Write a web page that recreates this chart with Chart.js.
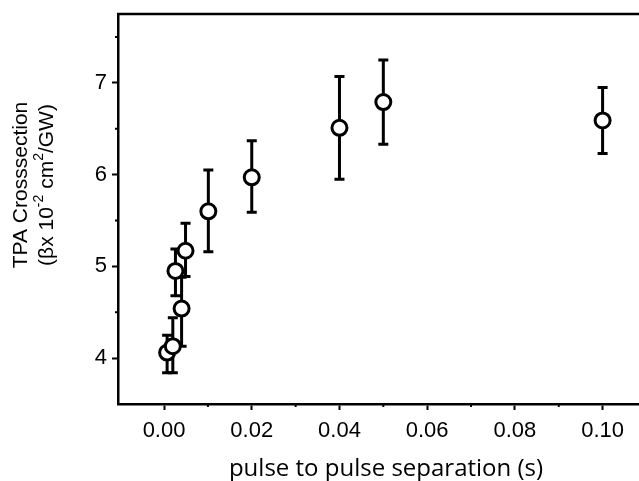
<!DOCTYPE html>
<html>
<head>
<meta charset="utf-8">
<script src="https://cdn.jsdelivr.net/npm/chart.js@4/dist/chart.umd.min.js"></script>
<style>
  html, body { margin: 0; padding: 0; background: #fff; }
  #wrap { width: 639px; height: 481px; }
</style>
</head>
<body>
<div id="wrap"><canvas id="tpaChart" width="639" height="481"></canvas></div>
<script>
// pulse separation (s) and TPA cross-section with error bar limits
const separation = [0.0007, 0.0020, 0.0026, 0.0040, 0.0049, 0.0101, 0.0200, 0.0400, 0.0500, 0.1000];
const crossSection = [4.06, 4.13, 4.95, 4.54, 5.17, 5.60, 5.97, 6.51, 6.79, 6.59];
const errLow = [3.84, 3.84, 4.68, 4.13, 4.89, 5.16, 5.59, 5.95, 6.33, 6.23];
const errHigh = [4.25, 4.44, 5.19, 4.88, 5.47, 6.05, 6.37, 7.07, 7.25, 6.95];

const xMajorTicks = [0, 0.02, 0.04, 0.06, 0.08, 0.10];
const xMinorTicks = [0.01, 0.03, 0.05, 0.07, 0.09];
const yMajorTicks = [4, 5, 6, 7];
const yMinorTicks = [4.5, 5.5, 6.5, 7.5];

const xTitle = 'pulse to pulse separation (s)';
const yTitle = 'TPA Crosssection';

(function() {
    'use strict';

    const tickFont = { family: '"Liberation Sans", Arial, sans-serif', size: 22 };

    function noPadding(scale) {
        scale.paddingLeft = 0;
        scale.paddingRight = 0;
        scale.paddingTop = 0;
        scale.paddingBottom = 0;
    }

    const errorBars = {
        id: 'errorBars',
        beforeDatasetsDraw(chart) {
            const ctx = chart.ctx;
            const xs = chart.scales.x;
            const ys = chart.scales.y;
            ctx.save();
            ctx.strokeStyle = '#000';
            ctx.lineWidth = 3;
            separation.forEach((v, i) => {
                const px = xs.getPixelForValue(v);
                const top = ys.getPixelForValue(errHigh[i]);
                const bottom = ys.getPixelForValue(errLow[i]);
                ctx.beginPath();
                ctx.moveTo(px, top);
                ctx.lineTo(px, bottom);
                ctx.moveTo(px - 5, top);
                ctx.lineTo(px + 5, top);
                ctx.moveTo(px - 5, bottom);
                ctx.lineTo(px + 5, bottom);
                ctx.stroke();
            });
            ctx.restore();
        }
    };

    const frame = {
        id: 'frame',
        afterDraw(chart) {
            const ctx = chart.ctx;
            const area = chart.chartArea;
            const xs = chart.scales.x;
            const ys = chart.scales.y;
            ctx.save();
            ctx.strokeStyle = '#000';
            ctx.lineWidth = 2.5;
            ctx.beginPath();
            ctx.moveTo(area.left - 1, area.top);
            ctx.lineTo(area.right, area.top);
            ctx.stroke();

            // minor ticks
            ctx.lineWidth = 2;
            ctx.beginPath();
            xMinorTicks.forEach((v) => {
                const px = xs.getPixelForValue(v);
                ctx.moveTo(px, area.bottom);
                ctx.lineTo(px, area.bottom + 3);
            });
            yMinorTicks.forEach((v) => {
                const py = ys.getPixelForValue(v);
                ctx.moveTo(area.left, py);
                ctx.lineTo(area.left - 3, py);
            });
            ctx.stroke();

            // axis titles
            ctx.fillStyle = '#000';
            ctx.textAlign = 'center';
            ctx.textBaseline = 'alphabetic';
            ctx.font = '24px "Open Sans", Lato, sans-serif';
            ctx.fillText(xTitle, 386, 476);

            ctx.textBaseline = 'middle';
            ctx.translate(21, 185);
            ctx.rotate(-Math.PI / 2);
            ctx.font = '21px "Liberation Sans", Arial, sans-serif';
            ctx.fillText(yTitle, 0, 0);

            // second line with superscripts
            const parts = [
                ['(\u03B2x 10', false], ['-2', true], [' cm', false], ['2', true], ['/GW)', false]
            ];
            const widthOf = (p) => {
                ctx.font = p[1] ? '14px "Liberation Sans", Arial, sans-serif' : '21px "Liberation Sans", Arial, sans-serif';
                return ctx.measureText(p[0]).width;
            };
            const total = parts.reduce((s, p) => s + widthOf(p), 0);
            let cx = -total / 2;
            ctx.textAlign = 'left';
            parts.forEach((p) => {
                const w = widthOf(p);
                ctx.fillText(p[0], cx, p[1] ? 26 - 8 : 26);
                cx += w;
            });
            ctx.restore();
        }
    };

    new Chart(document.getElementById('tpaChart'), {
        type: 'scatter',
        data: {
            datasets: [{
                data: separation.map((v, i) => ({ x: v, y: crossSection[i] })),
                pointStyle: 'circle',
                pointRadius: 7.5,
                pointHoverRadius: 7.5,
                pointBorderWidth: 3,
                pointBackgroundColor: '#fff',
                pointBorderColor: '#000'
            }]
        },
        options: {
            responsive: false,
            animation: false,
            devicePixelRatio: 1,
            layout: { autoPadding: false, padding: { top: 14, right: 0, left: 0, bottom: 0 } },
            plugins: { legend: { display: false }, tooltip: { enabled: false } },
            scales: {
                x: {
                    type: 'linear',
                    min: -0.0105,
                    max: 0.1083,
                    afterBuildTicks: (scale) => { scale.ticks = xMajorTicks.map((v) => ({ value: v })); },
                    afterFit: (scale) => { scale.height = 77; noPadding(scale); },
                    border: { display: true, color: '#000', width: 2.5 },
                    grid: { drawOnChartArea: false, drawTicks: true, tickLength: 6, tickWidth: 2, tickColor: '#000' },
                    ticks: {
                        color: '#000',
                        font: tickFont,
                        padding: 8,
                        maxRotation: 0,
                        callback: (v) => Number(v).toFixed(2)
                    }
                },
                y: {
                    type: 'linear',
                    min: 3.5,
                    max: 7.75,
                    afterBuildTicks: (scale) => { scale.ticks = yMajorTicks.map((v) => ({ value: v })); },
                    afterFit: (scale) => { scale.width = 118; noPadding(scale); },
                    border: { display: true, color: '#000', width: 2.5 },
                    grid: { drawOnChartArea: false, drawTicks: true, tickLength: 6, tickWidth: 2, tickColor: '#000' },
                    ticks: {
                        color: '#000',
                        font: tickFont,
                        padding: 5,
                        callback: (v) => String(v)
                    }
                }
            }
        },
        plugins: [errorBars, frame]
    });
})();
</script>
</body>
</html>
